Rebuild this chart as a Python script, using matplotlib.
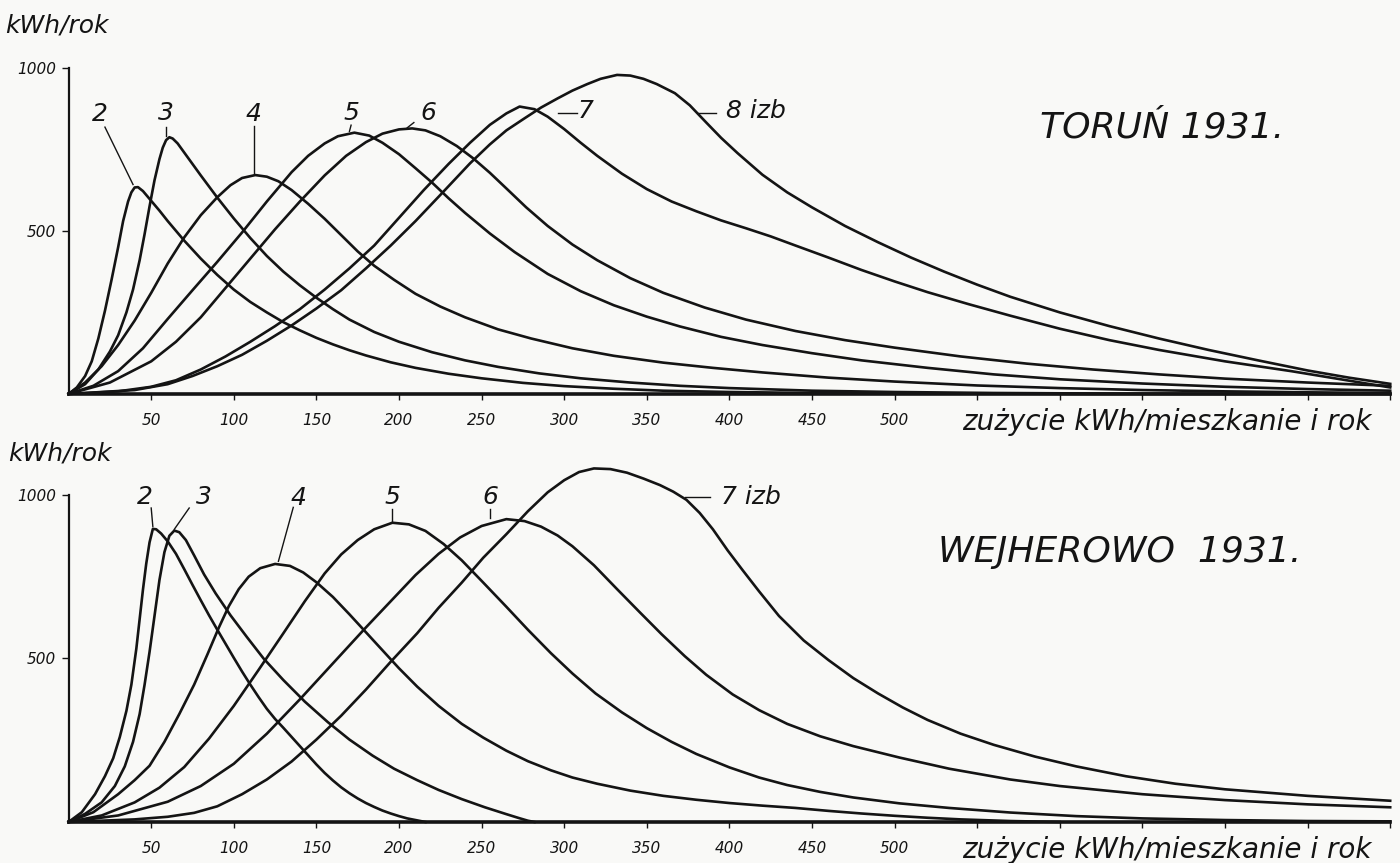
import matplotlib.pyplot as plt

plt.rcParams['font.family'] = ['DejaVu Sans']
plt.rcParams['font.style'] = 'italic'

# --- Toruń 1931: curves for dwellings with 2..8 rooms (kWh/rok vs usage) ---
torun_rooms = ['2', '3', '4', '5', '6', '7', '8']
torun_x = [
    [0, 5, 10, 14, 18, 22, 26, 30, 33, 36, 38, 40, 42, 45, 50, 55, 60, 65, 70, 80, 90, 100, 110, 120, 130, 140, 150, 160, 170, 180, 195, 210, 230, 250, 275, 300, 330, 360, 400, 450, 500, 560, 620, 700, 800],
    [0, 10, 18, 25, 30, 35, 39, 43, 46, 49, 52, 55, 57, 59, 61, 63, 66, 70, 75, 80, 90, 100, 110, 120, 130, 140, 150, 160, 170, 185, 200, 220, 240, 260, 285, 310, 340, 370, 400, 450, 500, 560, 640, 800],
    [0, 10, 20, 30, 40, 50, 60, 70, 80, 90, 98, 105, 113, 120, 127, 135, 145, 155, 165, 175, 185, 197, 210, 225, 240, 260, 280, 305, 330, 360, 390, 420, 460, 500, 550, 600, 650, 700, 750, 800],
    [0, 15, 30, 45, 60, 75, 90, 105, 120, 135, 145, 155, 163, 173, 182, 190, 200, 210, 220, 230, 240, 255, 270, 290, 310, 330, 350, 370, 395, 420, 450, 480, 520, 560, 600, 650, 700, 750, 800],
    [0, 25, 50, 65, 80, 95, 110, 125, 140, 155, 168, 180, 190, 200, 208, 216, 225, 235, 245, 255, 265, 277, 290, 305, 320, 340, 360, 385, 410, 440, 470, 500, 540, 580, 620, 660, 700, 750, 800],
    [0, 30, 50, 65, 80, 95, 110, 125, 140, 155, 170, 185, 200, 215, 230, 243, 255, 265, 273, 282, 290, 300, 310, 320, 335, 350, 365, 380, 395, 410, 425, 440, 460, 480, 500, 520, 545, 570, 600, 630, 660, 700, 740, 770, 800],
    [0, 40, 60, 75, 90, 105, 120, 135, 150, 165, 180, 195, 210, 225, 243, 255, 265, 276, 286, 296, 305, 314, 322, 332, 340, 348, 356, 367, 376, 386, 395, 405, 420, 435, 450, 470, 490, 510, 530, 550, 570, 600, 630, 660, 690, 720, 750, 775, 800],
]
torun_y = [
    [0, 20, 55, 100, 170, 255, 350, 450, 530, 590, 618, 633, 634, 622, 592, 562, 530, 500, 470, 415, 365, 320, 282, 250, 220, 195, 172, 152, 134, 118, 97, 80, 62, 48, 34, 24, 16, 10, 6, 3, 2, 1, 0, 0, 0],
    [0, 30, 75, 130, 180, 250, 320, 410, 490, 575, 655, 720, 755, 778, 787, 783, 768, 740, 705, 670, 602, 538, 478, 423, 375, 333, 295, 260, 228, 190, 160, 128, 103, 83, 63, 48, 35, 25, 18, 10, 6, 3, 1, 0],
    [0, 35, 85, 150, 225, 310, 400, 480, 548, 603, 640, 662, 671, 666, 652, 625, 583, 537, 487, 437, 393, 350, 307, 268, 235, 198, 170, 140, 117, 96, 80, 66, 50, 38, 26, 18, 12, 8, 5, 3],
    [0, 25, 70, 140, 230, 318, 405, 495, 590, 680, 730, 768, 790, 801, 792, 770, 735, 692, 648, 600, 555, 492, 435, 368, 315, 272, 237, 207, 175, 150, 125, 103, 80, 60, 45, 32, 22, 15, 10],
    [0, 35, 100, 160, 235, 325, 415, 505, 590, 670, 730, 772, 798, 811, 814, 808, 790, 760, 722, 678, 630, 572, 515, 458, 410, 355, 310, 265, 228, 193, 165, 142, 115, 93, 75, 60, 47, 35, 25],
    [0, 8, 22, 42, 75, 115, 160, 208, 260, 320, 385, 455, 540, 625, 705, 770, 825, 860, 881, 873, 850, 812, 770, 730, 675, 628, 590, 560, 532, 508, 483, 455, 418, 380, 345, 312, 275, 240, 200, 165, 135, 100, 70, 45, 20],
    [0, 12, 30, 55, 85, 120, 163, 210, 262, 318, 385, 455, 530, 610, 707, 765, 808, 845, 878, 906, 930, 950, 966, 978, 976, 966, 950, 922, 885, 832, 785, 738, 672, 618, 572, 515, 465, 418, 375, 335, 298, 250, 208, 170, 135, 103, 72, 50, 31],
]

# --- Wejherowo 1931: 2..7 rooms ---
wejh_rooms = ['2', '3', '4', '5', '6', '7']
wejh_x = [
    [0, 8, 16, 22, 27, 31, 35, 38, 41, 43, 45, 47, 49, 51, 53, 56, 60, 65, 70, 75, 80, 85, 90, 95, 100, 105, 110, 115, 120, 125, 130, 135, 140, 145, 150, 155, 160, 165, 170, 175, 180, 185, 190, 195, 200, 205, 210, 216],
    [0, 10, 20, 28, 34, 39, 43, 46, 49, 52, 55, 58, 61, 64, 67, 71, 76, 82, 89, 98, 108, 118, 130, 143, 157, 170, 184, 197, 211, 224, 238, 252, 265, 272, 278, 282],
    [0, 15, 30, 40, 49, 58, 67, 76, 84, 91, 97, 103, 109, 116, 125, 134, 142, 150, 160, 170, 180, 190, 200, 211, 224, 238, 251, 265, 278, 292, 305, 320, 340, 360, 380, 400, 420, 440, 460, 480, 500, 520, 540, 570, 600],
    [0, 20, 40, 55, 70, 85, 100, 115, 130, 143, 155, 165, 175, 185, 196, 206, 216, 227, 238, 251, 265, 278, 292, 305, 319, 335, 350, 365, 380, 400, 418, 435, 455, 475, 503, 533, 570, 610, 650, 700, 750, 800],
    [0, 30, 60, 80, 100, 120, 140, 160, 180, 195, 210, 224, 237, 250, 265, 276, 286, 296, 305, 318, 332, 346, 359, 373, 386, 402, 418, 435, 455, 475, 503, 533, 570, 600, 650, 700, 750, 800],
    [0, 40, 60, 76, 90, 105, 120, 135, 150, 165, 180, 195, 211, 224, 238, 251, 265, 278, 290, 300, 309, 318, 328, 338, 348, 358, 366, 374, 382, 390, 399, 408, 418, 430, 445, 460, 475, 490, 505, 520, 540, 560, 585, 610, 640, 670, 700, 750, 800],
]
wejh_y = [
    [0, 30, 85, 140, 195, 260, 340, 420, 530, 620, 710, 790, 855, 896, 895, 882, 858, 820, 773, 725, 678, 632, 588, 545, 502, 460, 420, 382, 346, 315, 288, 260, 232, 204, 176, 150, 127, 106, 88, 72, 58, 46, 35, 26, 18, 11, 6, 0],
    [0, 25, 60, 110, 170, 245, 330, 420, 520, 630, 740, 825, 875, 891, 886, 862, 815, 757, 699, 632, 565, 500, 434, 368, 305, 252, 203, 163, 128, 98, 70, 45, 24, 13, 4, 0],
    [0, 30, 85, 128, 172, 245, 330, 420, 512, 595, 660, 712, 750, 776, 789, 783, 763, 733, 688, 635, 580, 525, 470, 414, 355, 300, 258, 218, 186, 158, 136, 117, 96, 80, 68, 58, 50, 43, 34, 26, 19, 13, 8, 3, 0],
    [0, 20, 60, 105, 168, 255, 355, 465, 577, 675, 760, 818, 862, 895, 915, 910, 890, 850, 800, 732, 658, 588, 516, 454, 393, 335, 287, 245, 208, 167, 136, 113, 92, 75, 57, 43, 29, 18, 11, 6, 3, 2],
    [0, 20, 62, 110, 178, 270, 375, 485, 595, 675, 755, 820, 870, 905, 926, 920, 903, 876, 843, 785, 712, 640, 574, 507, 450, 390, 342, 300, 262, 232, 197, 163, 130, 110, 85, 67, 54, 45],
    [0, 8, 16, 28, 48, 85, 130, 185, 252, 325, 405, 490, 577, 655, 732, 808, 880, 950, 1008, 1045, 1070, 1081, 1079, 1068, 1050, 1030, 1010, 985, 945, 895, 830, 770, 705, 630, 555, 495, 440, 393, 350, 312, 270, 236, 200, 170, 140, 117, 100, 80, 65],
]

# room labels: (text, x, y) and leader lines (x0, y0, x1, y1)
torun_labels = [('2', 19, 858), ('3', 59, 862), ('4', 112, 858), ('5', 171, 862),
                ('6', 218, 862), ('7', 313, 866), ('8 izb', 398, 866)]
torun_leaders = [(22, 818, 39, 642), (59, 818, 59, 792), (112, 822, 112, 676),
                 (171, 824, 170, 805), (209, 832, 205, 816), (296, 862, 308, 862),
                 (381, 862, 392, 862)]
wejh_labels = [('2', 46, 995), ('3', 82, 995), ('4', 139, 990), ('5', 196, 995),
               ('6', 255, 995), ('7 izb', 395, 995)]
wejh_leaders = [(50, 960, 51, 903), (73, 960, 64, 895), (136, 962, 127, 797),
                (196, 956, 196, 918), (255, 956, 255, 929), (373, 995, 388, 995)]

xticks = list(range(50, 801, 50))
ink = '#141414'
paper = '#f9f9f7'


def draw_panel(ax, xs, ys, labels, leaders, title, title_xy):
    ax.set_facecolor(paper)
    for x, y in zip(xs, ys):
        ax.plot(x, y, color=ink, lw=1.9, solid_joinstyle='round', clip_on=False)
    for x0, y0, x1, y1 in leaders:
        ax.plot([x0, x1], [y0, y1], color=ink, lw=1.0, clip_on=False)
    for t, x, y in labels:
        ax.text(x, y, t, fontsize=18, ha='left' if 'izb' in t else 'center',
                va='center', color=ink)
    ax.text(title_xy[0], title_xy[1], title, fontsize=26, va='center', color=ink)

    ax.set_xlim(0, 800)
    ax.set_ylim(0, 1000)
    ax.set_xticks(xticks)
    ax.set_xticklabels([str(v) if v <= 500 else '' for v in xticks], fontsize=11)
    ax.set_yticks([500, 1000])
    ax.set_yticklabels(['500', '1000'], fontsize=11)
    ax.tick_params(axis='x', direction='out', length=4, width=1, pad=10, colors=ink)
    ax.tick_params(axis='y', direction='out', length=5, width=1, pad=4, colors=ink)
    for s in ['top', 'right']:
        ax.spines[s].set_visible(False)
    ax.spines['bottom'].set_linewidth(2.6)
    ax.spines['left'].set_linewidth(1.6)
    ax.spines['bottom'].set_color(ink)
    ax.spines['left'].set_color(ink)
    ax.text(541, -0.085, 'zużycie kWh/mieszkanie i rok', fontsize=20, va='center',
            color=ink, transform=ax.get_xaxis_transform())


fig = plt.figure(figsize=(14, 8.63), dpi=100, facecolor=paper)
ax1 = fig.add_axes([0.049, 0.5435, 0.944, 0.378])
ax2 = fig.add_axes([0.049, 0.0475, 0.944, 0.379])

draw_panel(ax1, torun_x, torun_y, torun_labels, torun_leaders, 'TORUŃ 1931.', (588, 818))
draw_panel(ax2, wejh_x, wejh_y, wejh_labels, wejh_leaders, 'WEJHEROWO  1931.', (526, 826))

fig.text(0.004, 0.970, 'kWh/rok', fontsize=18, va='center', color=ink)
fig.text(0.006, 0.475, 'kWh/rok', fontsize=18, va='center', color=ink)

fig.savefig('out.png', dpi=100, facecolor=paper)
